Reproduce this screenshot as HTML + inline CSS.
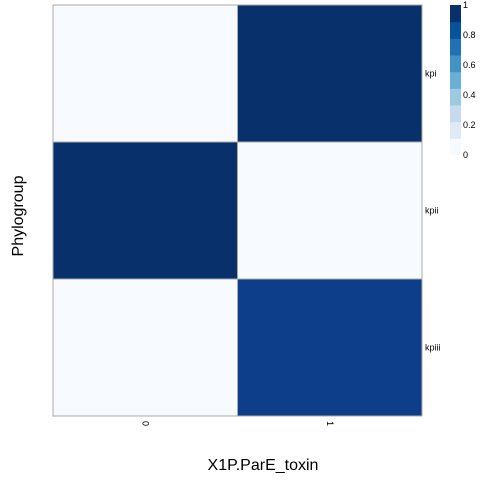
<!DOCTYPE html>
<html><head><meta charset="utf-8"><style>
body{margin:0;background:#fff;font-family:"Liberation Sans",sans-serif}
</style></head><body>
<svg id="c" width="480" height="480" xmlns="http://www.w3.org/2000/svg">
<text x="263" y="470" font-size="16" text-anchor="middle">X1P.ParE_toxin</text>
<text transform="translate(23,216) rotate(-90)" font-size="16" text-anchor="middle">Phylogroup</text>
</svg>
<script>
const cols=["0","1"];
const rows=["kpi","kpii","kpiii"];
const values=[[0,1],[1,0],[0,0.9]];
const legendTicks=[0,0.2,0.4,0.6,0.8,1];
const legendColors=["#F7FBFF","#DEEBF7","#C6DBEF","#9ECAE1","#6BAED6","#4292C6","#2171B5","#08519C","#08306B"];
const svg=document.getElementById('c');const NS="http://www.w3.org/2000/svg";
const X0=53,X1=422,Y0=5,Y1=416;
const cw=(X1-X0)/cols.length,rh=(Y1-Y0)/rows.length;
function color(v){const i=Math.min(legendColors.length-1,Math.floor(v*(legendColors.length-1)+0.5));return v>=0.95?"#08306B":v>=0.85?"#0D3E8A":legendColors[i];}
function mk(t,a){const e=document.createElementNS(NS,t);for(const k in a)e.setAttribute(k,a[k]);svg.appendChild(e);return e;}
rows.forEach((r,i)=>{cols.forEach((c,j)=>{
const e=mk('rect',{x:X0+j*cw,y:Y0+i*rh,width:cw,height:rh,fill:color(values[i][j]),stroke:'#aaa','stroke-width':1});

});
const t=mk('text',{x:X1+3,y:Y0+(i+0.5)*rh+3,'font-size':9});t.textContent=r;

});
cols.forEach((c,j)=>{const x=X0+(j+0.5)*cw;const t=mk('text',{transform:`translate(${x-3},${421}) rotate(90)`,'font-size':9});t.textContent=c;

});
const LY0=5,LY1=155,n=legendColors.length,bh=(LY1-LY0)/n;
legendColors.forEach((col,i)=>{const e=mk('rect',{x:450,y:LY1-(i+1)*bh,width:11,height:bh+0.5,fill:col});

});
legendTicks.forEach(v=>{const t=mk('text',{x:463,y:LY1-v*(LY1-LY0)+3,'font-size':9});t.textContent=v;

});
</script>
</body></html>
